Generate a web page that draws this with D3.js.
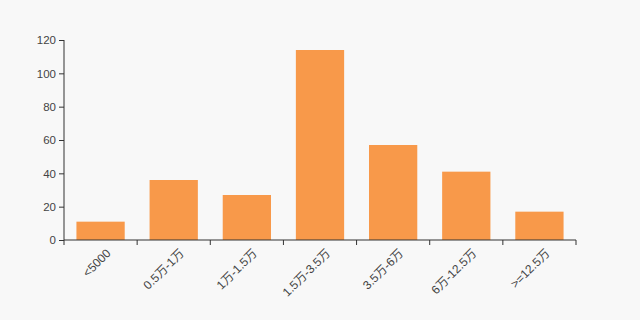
<!DOCTYPE html>
<html>
<head>
<meta charset="utf-8">
<script src="https://cdn.jsdelivr.net/npm/d3@7"></script>
<style>
  html, body { margin: 0; padding: 0; background: #f8f8f8; }
  text { font-family: "Liberation Sans", "Noto Sans CJK SC", sans-serif; }
</style>
</head>
<body>
<div id="chart"></div>
<script>
var categories = ["<5000", "0.5万-1万", "1万-1.5万", "1.5万-3.5万", "3.5万-6万", "6万-12.5万", ">=12.5万"];
var counts = [11, 36, 27, 114, 57, 41, 17];
var yTicks = [0, 20, 40, 60, 80, 100, 120];

var svgWidth = 640;
var svgHeight = 320;
var margin = { top: 40, right: 64, bottom: 80, left: 64 };
var width = svgWidth - margin.left - margin.right;
var height = svgHeight - margin.top - margin.bottom;

var svg = d3.select("#chart")
  .append("svg")
  .attr("width", svgWidth)
  .attr("height", svgHeight);

svg.append("rect")
  .attr("width", svgWidth)
  .attr("height", svgHeight)
  .attr("fill", "#f8f8f8");

var chartGroup = svg.append("g")
  .attr("transform", `translate(${margin.left}, ${margin.top})`);

var xScale = d3.scaleBand()
  .domain(categories)
  .range([0, width])
  .paddingInner(0.34)
  .paddingOuter(0.17);

var yScale = d3.scaleLinear()
  .domain([0, 120])
  .range([height, 0]);

// bars
chartGroup.selectAll("rect.bar")
  .data(counts)
  .enter()
  .append("rect")
  .attr("class", "bar")
  .attr("x", (d, i) => xScale(categories[i]))
  .attr("y", d => yScale(d))
  .attr("width", xScale.bandwidth())
  .attr("height", d => height - yScale(d))
  .attr("fill", "#f8994a");

// x axis with ticks on band edges
var xAxis = chartGroup.append("g")
  .attr("transform", `translate(0, ${height})`);

xAxis.append("line")
  .attr("x1", 0).attr("x2", width)
  .attr("stroke", "#333");

var step = xScale.step();
var edges = d3.range(categories.length + 1).map(i => i * step);
xAxis.selectAll("line.tick")
  .data(edges)
  .enter()
  .append("line")
  .attr("class", "tick")
  .attr("x1", d => d).attr("x2", d => d)
  .attr("y1", 0).attr("y2", 5)
  .attr("stroke", "#333");

xAxis.selectAll("text")
  .data(categories)
  .enter()
  .append("text")
  .attr("transform", d => `translate(${xScale(d) + xScale.bandwidth() / 2 + 5}, 8) rotate(-45)`)
  .attr("text-anchor", "end")
  .attr("dy", "0.7em")
  .style("font-size", "12px")
  .attr("fill", "#444")
  .text(d => d);

// y axis
var leftAxis = d3.axisLeft(yScale)
  .tickValues(yTicks)
  .tickSize(5)
  .tickPadding(3);

var yAxis = chartGroup.append("g").call(leftAxis);
yAxis.select(".domain").attr("stroke", "#333").attr("d", `M0,${height}V0`);
yAxis.selectAll(".tick line").attr("stroke", "#333");
yAxis.selectAll(".tick text")
  .style("font-size", "11.5px")
  .style("font-family", "'Liberation Sans', 'Noto Sans CJK SC', sans-serif")
  .attr("fill", "#444");
</script>
</body>
</html>
